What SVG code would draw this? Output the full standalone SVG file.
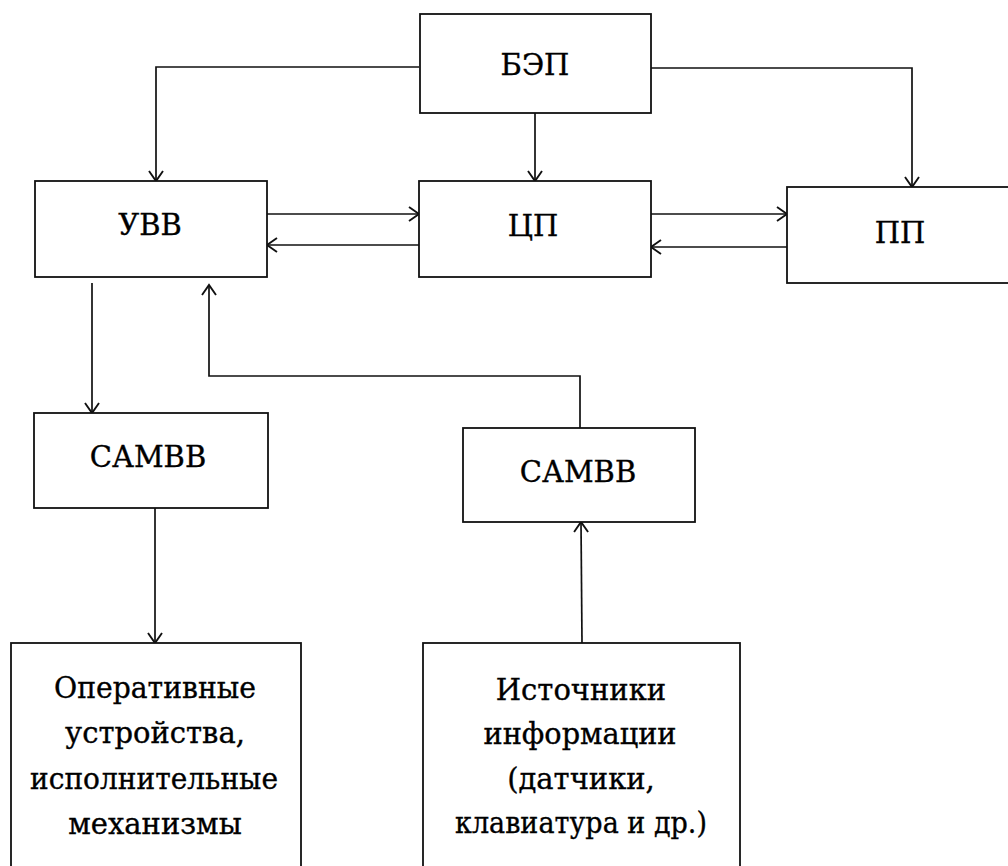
<svg xmlns="http://www.w3.org/2000/svg" width="1008" height="866" viewBox="0 0 1008 866">
<style>
.box{fill:#fff;stroke:#111;stroke-width:1.8}
.t{font-family:'DejaVu Serif',serif;font-size:29px;fill:#000;stroke:#000;stroke-width:0.35;text-anchor:middle}
.c{fill:none;stroke:#111;stroke-width:1.7}
</style>
<defs>
<marker id="a" markerUnits="userSpaceOnUse" markerWidth="14" markerHeight="20" refX="11" refY="8" orient="auto">
<path d="M1,1 L11,8 L1,15" fill="none" stroke="#111" stroke-width="1.9"/>
</marker>
</defs>
<rect width="1008" height="866" fill="#fff"/>
<g id="connectors">
<path class="c" d="M419,67 L156,67 L156,181" marker-end="url(#a)"/>
<path class="c" d="M535,113 L535,181" marker-end="url(#a)"/>
<path class="c" d="M651,68 L912,68 L912,187" marker-end="url(#a)"/>
<path class="c" d="M267,214 L419,214" marker-end="url(#a)"/>
<path class="c" d="M419,245 L267,245" marker-end="url(#a)"/>
<path class="c" d="M651,214 L787,214" marker-end="url(#a)"/>
<path class="c" d="M787,247 L651,247" marker-end="url(#a)"/>
<path class="c" d="M92,283 L92,413" marker-end="url(#a)"/>
<path class="c" d="M580,428 L580,376 L209,376 L209,285" marker-end="url(#a)"/>
<path class="c" d="M155,508 L155,643" marker-end="url(#a)"/>
<path class="c" d="M582,643 L581,522" marker-end="url(#a)"/>
</g>
<g id="bep"><rect class="box" x="420" y="14" width="231" height="99"/><text class="t" x="535" y="75">БЭП</text></g>
<g id="uvv"><rect class="box" x="35" y="181" width="232" height="96"/><text class="t" x="150" y="235">УВВ</text></g>
<g id="cp"><rect class="box" x="419" y="181" width="232" height="96"/><text class="t" x="533" y="236">ЦП</text></g>
<g id="pp"><rect class="box" x="787" y="187" width="240" height="96"/><text class="t" x="900" y="243">ПП</text></g>
<g id="samvv1"><rect class="box" x="34" y="413" width="234" height="95"/><text class="t" x="148" y="467">САМВВ</text></g>
<g id="samvv2"><rect class="box" x="463" y="428" width="232" height="94"/><text class="t" x="578" y="482">САМВВ</text></g>
<g id="out"><rect class="box" x="11" y="643" width="290" height="240"/>
<text class="t" x="155" y="698" textLength="202" lengthAdjust="spacingAndGlyphs">Оперативные</text>
<text class="t" x="155" y="743">устройства,</text>
<text class="t" x="154" y="789" textLength="248" lengthAdjust="spacingAndGlyphs">исполнительные</text>
<text class="t" x="155" y="834">механизмы</text></g>
<g id="src"><rect class="box" x="423" y="643" width="317" height="240"/>
<text class="t" x="581" y="700">Источники</text>
<text class="t" x="580" y="744" textLength="193" lengthAdjust="spacingAndGlyphs">информации</text>
<text class="t" x="581" y="789">(датчики,</text>
<text class="t" x="581" y="833" textLength="252" lengthAdjust="spacingAndGlyphs">клавиатура и др.)</text></g>
</svg>
